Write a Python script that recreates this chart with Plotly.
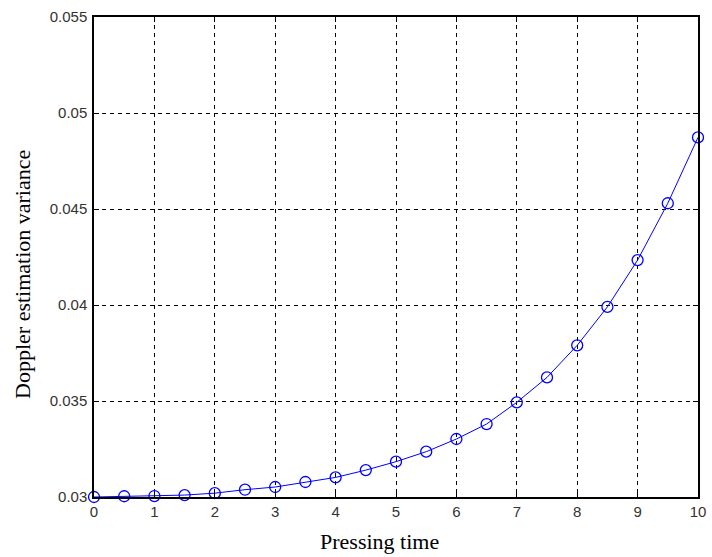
import plotly.graph_objects as go

pressing_time = [0, 0.5, 1, 1.5, 2, 2.5, 3, 3.5, 4, 4.5, 5, 5.5, 6, 6.5, 7, 7.5, 8, 8.5, 9, 9.5, 10]
variance = [0.03000, 0.03004, 0.03005, 0.03010, 0.03020, 0.03038, 0.03052, 0.03078, 0.03102,
            0.03140, 0.03184, 0.03236, 0.03302, 0.03380, 0.03493, 0.03623, 0.03790, 0.03990,
            0.04234, 0.04530, 0.04873]

x_ticks = list(range(0, 11))
x_tick_labels = [str(v) for v in x_ticks]
y_ticks = [0.03, 0.035, 0.04, 0.045, 0.05, 0.055]
y_tick_labels = ["0.03", "0.035", "0.04", "0.045", "0.05", "0.055"]
x_title = "Pressing time"
y_title = "Doppler estimation variance"

fig = go.Figure()
fig.add_trace(go.Scatter(
    x=pressing_time, y=variance, mode="lines+markers",
    line=dict(color="#0000FF", width=1),
    marker=dict(symbol="circle-open", size=11, color="#0000FF", line=dict(width=1.3, color="#0000FF")),
    showlegend=False, cliponaxis=False,
))

tick_font = dict(family="Liberation Sans, Arial, sans-serif", size=15, color="#333333")
title_font = dict(family="Liberation Serif, Times New Roman, serif", size=22, color="black")

axis_common = dict(
    showgrid=True, gridcolor="black", gridwidth=1, griddash="4px,4px",
    showline=True, linecolor="black", linewidth=1.5, mirror="ticks",
    ticks="inside", ticklen=5, tickcolor="black",
    tickfont=tick_font, zeroline=False, ticklabeloverflow="allow",
)

fig.update_layout(
    width=712, height=557,
    paper_bgcolor="white", plot_bgcolor="white",
    margin=dict(l=94, r=6, t=17, b=60),
    xaxis=dict(range=[0, 10], tickvals=x_ticks, ticktext=x_tick_labels, **axis_common),
    yaxis=dict(range=[0.03, 0.055], tickvals=y_ticks, ticktext=y_tick_labels,
               ticklabelstandoff=2, **axis_common),
    annotations=[
        dict(text=x_title, xref="paper", yref="paper", x=0.472, y=-0.0917,
             xanchor="center", yanchor="middle", showarrow=False, font=title_font),
        dict(text=y_title, xref="paper", yref="paper", x=-0.1176, y=0.4646,
             xanchor="center", yanchor="middle", textangle=-90, showarrow=False, font=title_font),
    ],
)

fig.write_html("out.html", config={"displayModeBar": False},
               post_script="document.body.style.margin='0';")
